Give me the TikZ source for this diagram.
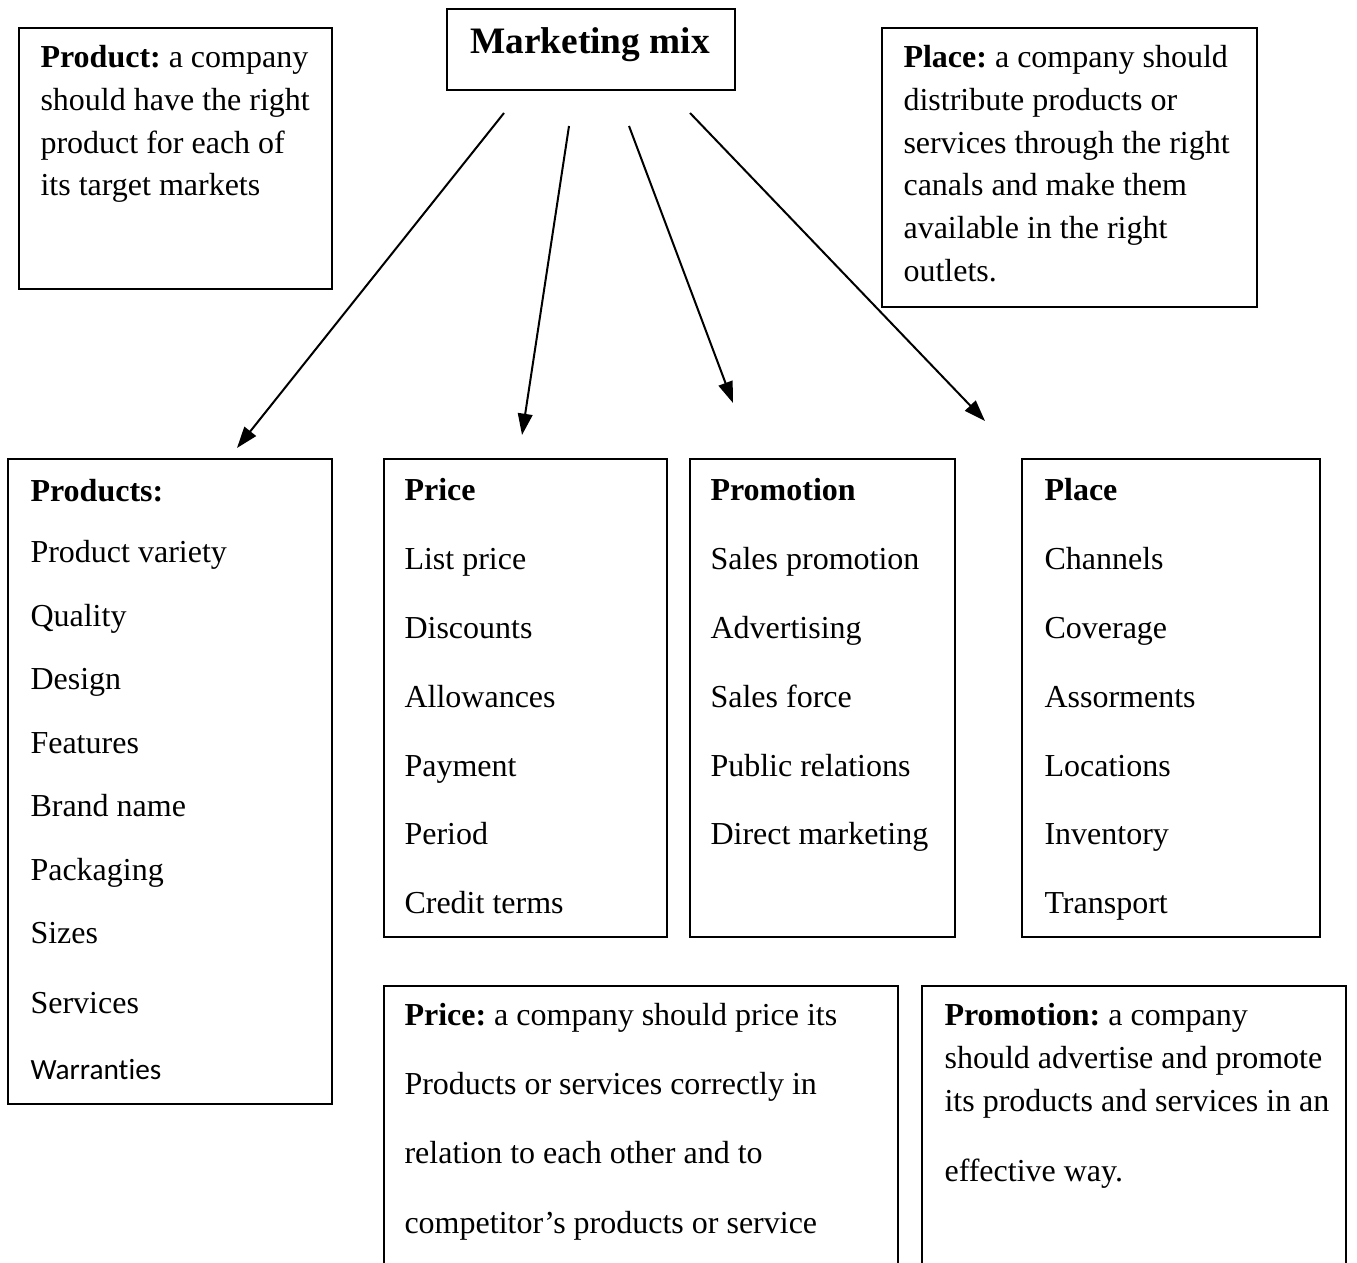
\documentclass[tikz,border=0pt]{standalone}
\usepackage{fontspec}
\setmainfont{Liberation Serif}
\newfontfamily\calibri[Ligatures=NoCommon]{Carlito}
\frenchspacing
\usetikzlibrary{arrows.meta}
\tikzset{
  box/.style={draw, line width=0.75pt},
  txt/.style={align=left, anchor=north west, inner sep=0pt},
  note/.style={font=\fontsize{12}{16}\selectfont},
  list/.style={font=\fontsize{12}{25.8}\selectfont},
  mixarrow/.style={line width=0.75pt, -{Triangle[length=8pt,width=5.5pt]}},
}
\begin{document}
\begin{tikzpicture}[x=0.375pt, y=-0.375pt]
      \useasboundingbox (0,0) rectangle (1357,1262);
      \clip (0,0) rectangle (1357,1262);
      % frames
      \draw[box]
        (19,28) rectangle (332,289)
        (447,9) rectangle (735,90)
        (882,28) rectangle (1257,307)
        (8,459) rectangle (332,1104)
        (384,459) rectangle (667,937)
        (690,459) rectangle (955,937)
        (1022,459) rectangle (1320,937)
        (384,986) rectangle (898,1300)
        (922,986) rectangle (1346,1300);
      % texts
      \path[txt]
        (590,27.5) node[anchor=north, font=\fontsize{14}{16}\selectfont\bfseries] (mix){Marketing mix}
        (40,45.2) node[note] (productnote){\textbf{Product:} a company\\should have the right\\product for each of\\its target markets}
        (903,45.2) node[note] (placenote){\textbf{Place:} a company should\\distribute products or\\services through the right\\canals and make them\\available in the right\\outlets.}
        (30,479.1) node[font=\fontsize{12}{23.8}\selectfont] (products){\textbf{Products:}\\[-0.9pt]Product variety\\Quality\\Design\\Features\\Brand name\\Packaging\\Sizes\\[2.4pt]Services\\[0.9pt]{\calibri\fontsize{11}{23.8}\selectfont Warranties}}
        (404,478.1) node[list] (price){\textbf{Price}\\List price\\Discounts\\Allowances\\Payment\\Period\\Credit terms}
        (710,478.1) node[list] (promotion){\textbf{Promotion}\\Sales promotion\\Advertising\\Sales force\\Public relations\\Direct marketing}
        (1044,478.1) node[list] (place){\textbf{Place}\\Channels\\Coverage\\Assorments\\Locations\\Inventory\\Transport}
        (404,1003.1) node[font=\fontsize{12}{25.9}\selectfont] (pricenote){\textbf{Price:} a company should price its\\Products or services correctly in\\relation to each other and to\\competitor's products or service}
        (944,1003.1) node[note] (promotionnote){\textbf{Promotion:} a company\\should advertise and promote\\its products and services in an\\[10.3pt]effective way.};
      % arrow ends
      \coordinate (a1) at (504,113);
      \coordinate (b1) at (237,448);
      \coordinate (a2) at (569,126);
      \coordinate (b2) at (522,435);
      \coordinate (a3) at (629,126);
      \coordinate (b3) at (733,403);
      \coordinate (a4) at (690,113);
      \coordinate (b4) at (985,421);
      \begin{scope}[mixarrow]
        \draw (a1) to (b1);
        \draw (a2) to (b2);
        \draw (a3) to (b3);
        \draw (a4) to (b4);
      \end{scope}
    \end{tikzpicture}
\end{document}
